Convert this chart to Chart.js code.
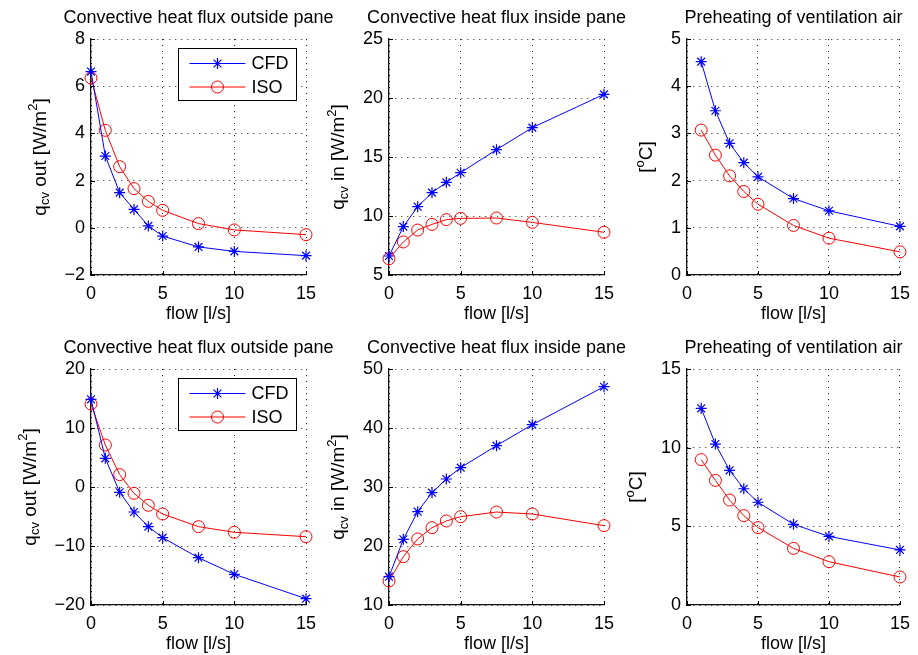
<!DOCTYPE html>
<html>
<head>
<meta charset="utf-8">
<script src="https://cdn.jsdelivr.net/npm/chart.js@4/dist/chart.umd.min.js"></script>
<style>
  body { margin: 0; background: #fff; overflow: hidden; }
  #fig { position: relative; width: 918px; height: 655px; overflow: hidden; }
  #fig canvas { position: absolute; }
</style>
</head>
<body>
<div id="fig"></div>
<script>
// ventilation flow [l/s]
const flow = [0, 1, 2, 3, 4, 5, 7.5, 10, 15];
const flowPre = [1, 2, 3, 4, 5, 7.5, 10, 15];

// case 1 (upper row)
const outCfd1 = [6.62, 3.04, 1.49, 0.78, 0.08, -0.35, -0.81, -1.0, -1.18];
const outIso1 = [6.35, 4.13, 2.59, 1.66, 1.12, 0.74, 0.18, -0.09, -0.29];
const inCfd1 = [6.61, 9.1, 10.79, 11.98, 12.85, 13.67, 15.62, 17.49, 20.31];
const inIso1 = [6.38, 7.8, 8.81, 9.29, 9.69, 9.8, 9.83, 9.46, 8.62];
const preCfd1 = [4.52, 3.48, 2.79, 2.38, 2.08, 1.62, 1.36, 1.03];
const preIso1 = [3.07, 2.54, 2.1, 1.77, 1.5, 1.05, 0.78, 0.49];

// case 2 (lower row)
const outCfd2 = [14.86, 4.86, -0.9, -4.24, -6.72, -8.59, -11.98, -14.8, -18.93];
const outIso2 = [14.07, 7.12, 2.1, -1.07, -3.1, -4.58, -6.72, -7.68, -8.42];
const inCfd2 = [14.8, 21.13, 25.82, 29.04, 31.36, 33.28, 37.01, 40.57, 47.0];
const inIso2 = [14.07, 18.19, 21.19, 23.11, 24.24, 24.97, 25.76, 25.42, 23.45];
const preCfd2 = [12.5, 10.23, 8.56, 7.39, 6.53, 5.13, 4.36, 3.5];
const preIso2 = [9.24, 7.92, 6.67, 5.68, 4.92, 3.6, 2.75, 1.78];

const titles = ['Convective heat flux outside pane', 'Convective heat flux inside pane', 'Preheating of ventilation air'];
const yLabels = ['q_{cv} out [W/m^{2}]', 'q_{cv} in [W/m^{2}]', '[^{o}C]'];
const xLabel = 'flow [l/s]';
const seriesNames = ['CFD', 'ISO'];
const xTicks = [0, 15, 5];
// min, max, step of each y axis, row by row
const yTicks = [[-2, 8, 2], [5, 25, 5], [0, 5, 1], [-20, 20, 10], [10, 50, 10], [0, 15, 5]];

const FONT = "'Liberation Sans', Arial, Helvetica, sans-serif";
Chart.defaults.font.family = FONT;
Chart.defaults.font.size = 18;
Chart.defaults.color = '#000';

const panels = [
  { x: flow, cfd: outCfd1, iso: outIso1, kind: 0, legend: true },
  { x: flow, cfd: inCfd1, iso: inIso1, kind: 1 },
  { x: flowPre, cfd: preCfd1, iso: preIso1, kind: 2 },
  { x: flow, cfd: outCfd2, iso: outIso2, kind: 0, legend: true },
  { x: flow, cfd: inCfd2, iso: inIso2, kind: 1 },
  { x: flowPre, cfd: preCfd2, iso: preIso2, kind: 2 }
];

const fmt = v => String(v).replace('-', '\u2212');

// splits 'q_{cv} [W/m^{2}]' into plain / sub / sup pieces
function richParts(s) {
  const parts = [];
  const re = /([_^])\{([^}]*)\}/g;
  let last = 0, m;
  while ((m = re.exec(s))) {
    if (m.index > last) parts.push({ t: s.slice(last, m.index), k: '' });
    parts.push({ t: m[2], k: m[1] });
    last = re.lastIndex;
  }
  if (last < s.length) parts.push({ t: s.slice(last), k: '' });
  return parts;
}

// axes title centred over the plot box, free to run wider than it
const axesTitlePlugin = {
  id: 'axesTitle',
  afterDraw(chart, args, opts) {
    const { ctx, chartArea } = chart;
    ctx.save();
    ctx.font = '18px ' + FONT;
    ctx.fillStyle = '#000';
    ctx.textAlign = 'center';
    ctx.textBaseline = 'middle';
    ctx.fillText(opts.text, (chartArea.left + chartArea.right) / 2, chartArea.top - 21);
    ctx.restore();
  }
};

// short inward tick marks on the left and bottom axis lines
const innerTicksPlugin = {
  id: 'innerTicks',
  afterDatasetsDraw(chart) {
    const { ctx, chartArea, scales } = chart;
    ctx.save();
    ctx.strokeStyle = '#000';
    ctx.lineWidth = 1;
    ctx.beginPath();
    scales.y.ticks.forEach(t => {
      const y = Math.round(scales.y.getPixelForValue(t.value)) + 0.5;
      ctx.moveTo(chartArea.left, y);
      ctx.lineTo(chartArea.left + 4, y);
    });
    scales.x.ticks.forEach(t => {
      const x = Math.round(scales.x.getPixelForValue(t.value)) + 0.5;
      ctx.moveTo(x, chartArea.bottom);
      ctx.lineTo(x, chartArea.bottom - 4);
    });
    ctx.stroke();
    ctx.restore();
  }
};

// rotated y axis label with sub/superscripts
const yLabelPlugin = {
  id: 'yLabel',
  afterDraw(chart, args, opts) {
    const { ctx, chartArea } = chart;
    const ys = chart.scales.y;
    ctx.save();
    ctx.font = '18px ' + FONT;
    const widest = Math.max(...ys.ticks.map(t => ctx.measureText(t.label).width));
    const cx = chartArea.left - 6 - widest - 24;
    const cy = (chartArea.top + chartArea.bottom) / 2;
    const parts = richParts(opts.text).map(p => {
      const size = p.k ? 13 : 19;
      ctx.font = size + 'px ' + FONT;
      return { ...p, size, w: ctx.measureText(p.t).width };
    });
    const total = parts.reduce((a, p) => a + p.w, 0);
    ctx.translate(cx, cy);
    ctx.rotate(-Math.PI / 2);
    ctx.textBaseline = 'middle';
    ctx.fillStyle = '#000';
    let x = -total / 2;
    parts.forEach(p => {
      ctx.font = p.size + 'px ' + FONT;
      const dy = p.k === '_' ? 5 : p.k === '^' ? -7 : 0;
      ctx.fillText(p.t, x, dy);
      x += p.w;
    });
    ctx.restore();
  }
};

// boxed legend inside the upper right corner of the axes
const boxLegendPlugin = {
  id: 'boxLegend',
  afterDraw(chart, args, opts) {
    if (!opts.show) return;
    const { ctx, chartArea } = chart;
    const sets = chart.data.datasets;
    ctx.save();
    ctx.font = '18px ' + FONT;
    const textW = Math.max(...sets.map(d => ctx.measureText(d.label).width));
    const lineLen = 56, padL = 11, gap = 6, padR = 8, rowH = 23.5;
    const w = padL + lineLen + gap + textW + padR;
    const h = 52;
    const left = Math.round(chartArea.right - 10 - w) + 0.5;
    const top = Math.round(chartArea.top + 9) + 0.5;
    ctx.fillStyle = '#fff';
    ctx.fillRect(left, top, w, h);
    ctx.strokeStyle = '#000';
    ctx.lineWidth = 1;
    ctx.strokeRect(left, top, w, h);
    sets.forEach((d, i) => {
      const y = top + 15 + i * rowH;
      ctx.strokeStyle = d.borderColor;
      ctx.lineWidth = d.borderWidth;
      ctx.beginPath();
      ctx.moveTo(left + padL, y);
      ctx.lineTo(left + padL + lineLen, y);
      ctx.stroke();
      ctx.fillStyle = 'rgba(0,0,0,0)';
      ctx.lineWidth = d.pointBorderWidth;
      Chart.helpers.drawPoint(ctx, {
        pointStyle: d.pointStyle, radius: d.pointRadius, rotation: 0, borderWidth: d.pointBorderWidth
      }, left + padL + lineLen / 2, y);
      ctx.fillStyle = '#000';
      ctx.textBaseline = 'middle';
      ctx.fillText(d.label, left + padL + lineLen + gap, y + 1);
    });
    ctx.restore();
  }
};

const fig = document.getElementById('fig');

panels.forEach((p, i) => {
  const row = Math.floor(i / 3), col = i % 3;
  // the two left columns get extra room on the right for their long titles
  const extra = col < 2 ? 20 : 0;
  const canvas = document.createElement('canvas');
  canvas.width = 322 + extra;
  canvas.height = 325;
  canvas.style.left = (col * 298) + 'px';
  canvas.style.top = (row * 330) + 'px';
  fig.appendChild(canvas);

  const [ymin, ymax, ystep] = yTicks[i];
  const axisBorder = { display: true, color: '#111', width: 1.3, dash: [1, 5] };
  const axisGrid = { color: '#222', lineWidth: 1, drawTicks: false };

  new Chart(canvas, {
    type: 'line',
    data: {
      datasets: [
        {
          label: seriesNames[0],
          data: p.x.map((x, k) => ({ x, y: p.cfd[k] })),
          borderColor: '#0000ff',
          borderWidth: 1,
          pointStyle: 'star',
          pointRadius: 5.5,
          pointBorderWidth: 1.2,
          pointBorderColor: '#0000ff',
          pointBackgroundColor: '#0000ff',
          tension: 0,
          clip: false
        },
        {
          label: seriesNames[1],
          data: p.x.map((x, k) => ({ x, y: p.iso[k] })),
          borderColor: '#ff0000',
          borderWidth: 1,
          pointStyle: 'circle',
          pointRadius: 6,
          pointBorderWidth: 1,
          pointBorderColor: '#ff0000',
          pointBackgroundColor: 'rgba(0,0,0,0)',
          tension: 0,
          clip: false
        }
      ]
    },
    options: {
      responsive: false,
      animation: false,
      events: [],
      layout: { padding: { left: 0, right: 16 + extra, top: 39, bottom: 0 } },
      scales: {
        x: {
          type: 'linear',
          min: xTicks[0], max: xTicks[1],
          ticks: { stepSize: xTicks[2], padding: 8, maxRotation: 0, autoSkip: false, callback: fmt },
          grid: axisGrid,
          border: axisBorder,
          title: { display: true, text: xLabel, font: { size: 18 }, padding: { top: 0, bottom: 0 } },
          afterFit: s => { s.height = 50; }
        },
        y: {
          min: ymin, max: ymax,
          ticks: { stepSize: ystep, padding: 6, autoSkip: false, callback: fmt },
          grid: axisGrid,
          border: axisBorder,
          afterFit: s => { s.width = 91; }
        }
      },
      plugins: {
        legend: { display: false },
        tooltip: { enabled: false },
        title: { display: false },
        axesTitle: { text: titles[p.kind] },
        yLabel: { text: yLabels[p.kind] },
        boxLegend: { show: !!p.legend }
      }
    },
    plugins: [innerTicksPlugin, axesTitlePlugin, yLabelPlugin, boxLegendPlugin]
  });
});
</script>
</body>
</html>
